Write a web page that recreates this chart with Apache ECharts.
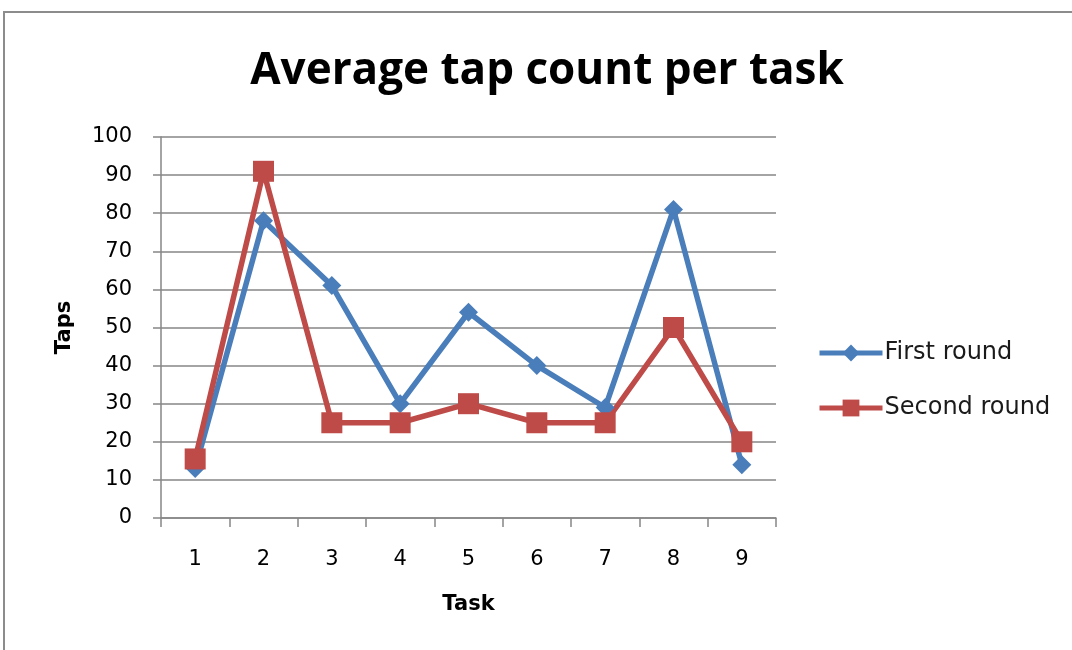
<!DOCTYPE html>
<html>
<head>
<meta charset="utf-8">
<script src="https://cdn.jsdelivr.net/npm/echarts@6/dist/echarts.min.js"></script>
<style>
  html, body { margin: 0; padding: 0; background: #fff; }
  #chart { width: 1072px; height: 650px; }
</style>
</head>
<body>
<div id="chart"></div>
<script>
// Task numbers along the x axis
const tasks = ['1', '2', '3', '4', '5', '6', '7', '8', '9'];
// Average taps per task, first and second round
const firstRound = [13, 78, 61, 30, 54, 40, 29, 81, 14];
const secondRound = [15.5, 91, 25, 25, 30, 25, 25, 50, 20];

const gray = '#868686';
const blue = '#4a7ebb';
const red = '#be4b48';
const labelFont = '"DejaVu Sans", Verdana, sans-serif';

const chart = echarts.init(document.getElementById('chart'));
chart.setOption({
  backgroundColor: '#ffffff',
  animation: false,
  title: {
    text: 'Average tap count per task',
    left: 542,
    textAlign: 'center',
    top: 44,
    textStyle: { fontFamily: '"Open Sans", Lato, sans-serif', fontWeight: 'bold', fontSize: 44, color: '#000' }
  },
  graphic: [{
    type: 'rect',
    shape: { x: 4, y: 12, width: 1100, height: 700 },
    style: { fill: 'none', stroke: '#8c8c8c', lineWidth: 2 },
    silent: true
  }],
  grid: { left: 161, top: 137, width: 615, height: 381 },
  legend: {
    orient: 'vertical',
    left: 817,
    top: 341,
    padding: 0,
    itemWidth: 63,
    itemHeight: 21,
    itemGap: 31,
    lineStyle: { width: 5 },
    textStyle: { fontFamily: labelFont, fontSize: 24, color: '#1a1a1a', padding: [0, 0, 0, -3] },
    data: ['First round', 'Second round']
  },
  xAxis: {
    type: 'category',
    data: tasks,
    boundaryGap: true,
    name: 'Task',
    nameLocation: 'middle',
    nameGap: 76,
    nameTextStyle: { fontFamily: labelFont, fontWeight: 'bold', fontSize: 21, color: '#000' },
    axisLine: { lineStyle: { color: gray, width: 1.5 } },
    axisTick: { show: true, alignWithLabel: false, length: 9, lineStyle: { color: gray, width: 1.5 } },
    axisLabel: { fontFamily: labelFont, fontSize: 21, color: '#000', margin: 31 },
    splitLine: { show: false }
  },
  yAxis: {
    type: 'value',
    min: 0,
    max: 100,
    interval: 10,
    name: 'Taps',
    nameLocation: 'middle',
    nameRotate: 90,
    nameGap: 86,
    nameTextStyle: { fontFamily: labelFont, fontWeight: 'bold', fontSize: 21, color: '#000' },
    axisLine: { show: true, lineStyle: { color: gray, width: 1.5 } },
    axisTick: { show: true, inside: false, length: 8, lineStyle: { color: gray, width: 1.5 } },
    axisLabel: { fontFamily: labelFont, fontSize: 21, color: '#000', margin: 29 },
    splitLine: { show: true, lineStyle: { color: gray, width: 1.5 } }
  },
  series: [
    {
      name: 'First round',
      type: 'line',
      data: firstRound,
      symbol: 'diamond',
      symbolSize: 19,
      lineStyle: { color: blue, width: 5.5 },
      itemStyle: { color: blue }
    },
    {
      name: 'Second round',
      type: 'line',
      data: secondRound,
      symbol: 'rect',
      symbolSize: 21,
      lineStyle: { color: red, width: 5.5 },
      itemStyle: { color: red }
    }
  ]
});
</script>
</body>
</html>
